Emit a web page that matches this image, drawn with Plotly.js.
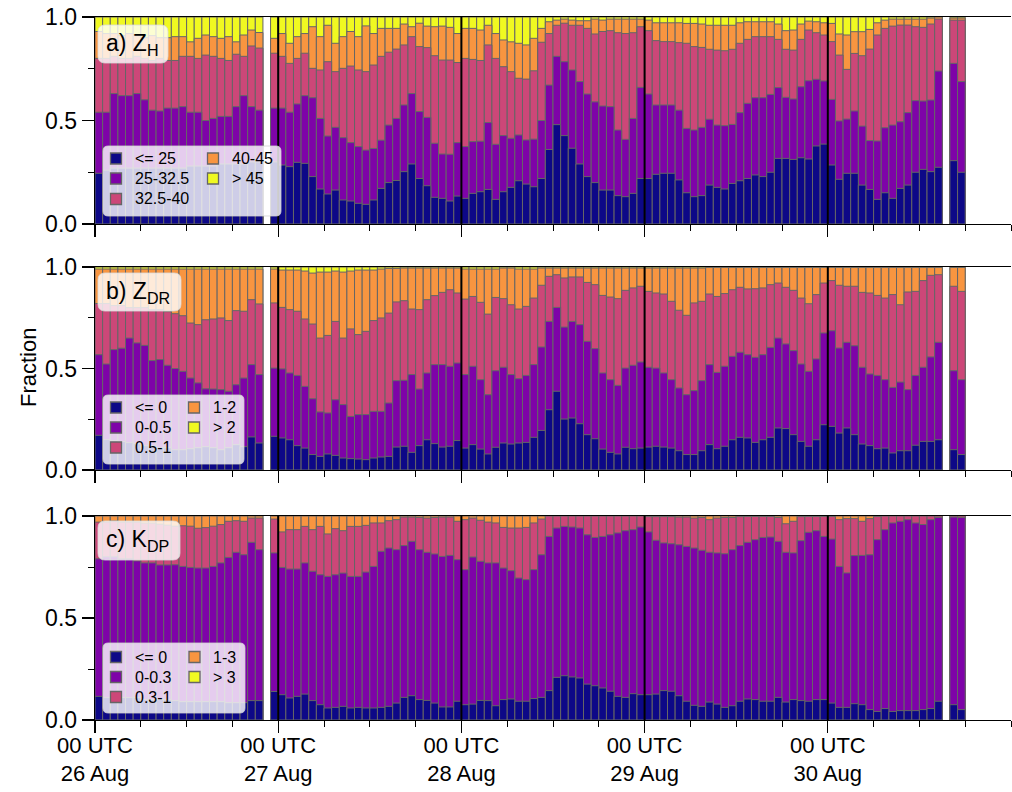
<!DOCTYPE html>
<html><head><meta charset="utf-8">
<script src="https://cdn.plot.ly/plotly-3.0.1.min.js"></script>
<style>html,body{margin:0;padding:0;background:#fff}#chart{width:1012px;height:792px}</style>
</head><body><div id="chart"></div>
<script>
// hourly bins (hours since 00 UTC 26 Aug); hours 22 and 111 have no data
const hours = [0,1,2,3,4,5,6,7,8,9,10,11,12,13,14,15,16,17,18,19,20,21,
 23,24,25,26,27,28,29,30,31,32,33,34,35,36,37,38,39,
 40,41,42,43,44,45,46,47,48,49,50,51,52,53,54,55,56,57,58,59,
 60,61,62,63,64,65,66,67,68,69,70,71,72,73,74,75,76,77,78,79,
 80,81,82,83,84,85,86,87,88,89,90,91,92,93,94,95,96,97,98,99,
 100,101,102,103,104,105,106,107,108,109,110,112,113];

const dayTickVals = [0,24,48,72,96];
const dayTickText = ['00 UTC<br>26 Aug','00 UTC<br>27 Aug','00 UTC<br>28 Aug','00 UTC<br>29 Aug','00 UTC<br>30 Aug'];
const fracTickVals = [0,0.5,1];
const fracTickText = ['0.0','0.5','1.0'];

const zhClasses  = ['&lt;= 25','25-32.5','32.5-40','40-45','&gt; 45'];
const zdrClasses = ['&lt;= 0','0-0.5','0.5-1','1-2','&gt; 2'];
const kdpClasses = ['&lt;= 0','0-0.3','0.3-1','1-3','&gt; 3'];
const classColors = ['#0d0887','#7e03a8','#cc4778','#f89540','#f0f921'];

// cumulative fractions (fraction of pixels at or below each class upper bound)
const fracTotal = [1,1,1,1,1,1,1,1,1,1,1,1,1,1,1,1,1,1,1,1,1,1,
 1,1,1,1,1,1,1,1,1,1,1,1,1,1,1,1,1,
 1,1,1,1,1,1,1,1,1,1,1,1,1,1,1,1,1,1,1,1,1,1,1,1,1,1,1,1,1,1,1,1,1,1,1,1,1,1,1,1,
 1,1,1,1,1,1,1,1,1,1,1,1,1,1,1,1,1,1,1,1,1,1,1,1,1,1,1,1,1,1,1,1,1];

// ---- Z_H ----
const zhLe25 = [.245,.26,.27,.27,.27,.27,.27,.27,.27,.27,.27,.27,.28,.28,.28,.28,.29,.29,.29,.29,.30,.30,
 .30,.285,.277,.298,.293,.229,.169,.145,.164,.116,.111,.10,.095,.116,.172,.20,.21,
 .253,.29,.22,.185,.129,.124,.111,.135,.124,.148,.156,.167,.119,.156,.177,.209,.193,.18,.22,.36,
 .48,.427,.366,.29,.229,.20,.164,.164,.137,.132,.148,.22,.22,.24,.245,.245,.213,.151,.132,.137,
 .188,.177,.169,.196,.209,.22,.237,.229,.25,.317,.317,.312,.32,.314,.377,.386,.285,.216,.245,.245,
 .188,.167,.119,.151,.124,.172,.188,.25,.264,.253,.274,.306,.25];
const zhLe325 = [.54,.54,.63,.62,.62,.63,.60,.55,.546,.56,.56,.567,.54,.54,.50,.51,.52,.52,.567,.62,.567,.55,
 .56,.56,.54,.58,.62,.61,.51,.425,.467,.417,.393,.374,.357,.365,.405,.478,.51,
 .575,.63,.543,.515,.39,.338,.337,.393,.374,.398,.40,.49,.385,.427,.414,.43,.406,.41,.50,.671,
 .81,.784,.744,.688,.628,.59,.57,.567,.454,.409,.51,.66,.628,.575,.575,.575,.55,.462,.454,.467,
 .506,.478,.475,.481,.538,.583,.61,.61,.626,.659,.612,.604,.663,.692,.699,.691,.602,.498,.507,.546,
 .473,.403,.401,.465,.478,.494,.538,.596,.594,.599,.739,.776,.688];
const zhLe40 = [.80,.80,.81,.80,.80,.81,.80,.79,.80,.79,.79,.81,.81,.80,.816,.81,.80,.79,.82,.81,.86,.85,
 .825,.81,.776,.80,.825,.752,.744,.784,.736,.752,.763,.744,.736,.768,.81,.83,.845,
 .865,.905,.857,.852,.813,.792,.792,.78,.80,.795,.79,.865,.80,.76,.736,.704,.70,.74,.878,.92,
 .96,.97,.96,.96,.945,.918,.93,.934,.924,.92,.924,.953,.934,.886,.881,.881,.876,.873,.857,.853,
 .844,.84,.837,.844,.873,.892,.905,.905,.905,.892,.844,.84,.892,.937,.924,.913,.881,.816,.747,.824,
 .813,.845,.913,.945,.956,.961,.961,.953,.95,.966,.99,.985,.985];
const zhLe45 = [.93,.92,.92,.91,.92,.91,.90,.91,.90,.90,.905,.905,.88,.897,.913,.905,.897,.905,.88,.913,.937,.925,
 .897,.92,.873,.905,.92,.953,.905,.96,.873,.905,.93,.905,.957,.92,.945,.945,.945,
 .966,.953,.97,.956,.953,.956,.95,.92,.945,.945,.937,.96,.92,.889,.88,.873,.865,.897,.945,.977,
 .985,.99,.985,.982,.982,.99,.985,.99,.99,.99,.99,.99,.985,.972,.972,.972,.972,.969,.969,.966,
 .96,.96,.96,.96,.972,.977,.977,.977,.977,.966,.934,.937,.966,.98,.977,.972,.969,.918,.913,.929,
 .929,.94,.972,.985,.99,.99,.99,.99,.99,.995,1.0,.995,.995];

// ---- Z_DR ----
const zdrLe0 = [.171,.15,.145,.14,.135,.13,.12,.12,.11,.11,.10,.10,.105,.11,.115,.11,.10,.11,.125,.115,.163,.133,
 .166,.158,.149,.12,.108,.076,.067,.079,.072,.059,.056,.054,.051,.059,.064,.067,.113,
 .117,.087,.12,.149,.13,.113,.117,.145,.108,.125,.103,.079,.112,.133,.128,.133,.136,.161,.195,.297,
 .388,.251,.256,.228,.174,.154,.103,.087,.079,.112,.105,.108,.113,.117,.113,.108,.095,.076,.076,.095,
 .125,.105,.117,.149,.161,.158,.136,.149,.161,.207,.204,.174,.141,.117,.149,.223,.215,.182,.207,.174,
 .128,.12,.105,.108,.084,.095,.095,.122,.141,.141,.149,.10,.076];
const zdrLe05 = [.568,.522,.593,.60,.65,.626,.614,.539,.544,.516,.50,.486,.453,.429,.40,.399,.396,.388,.42,.453,.519,.47,
 .502,.498,.478,.466,.412,.351,.286,.281,.346,.322,.264,.273,.273,.289,.289,.33,.44,
 .442,.47,.399,.478,.519,.519,.511,.527,.47,.511,.445,.371,.489,.506,.47,.45,.466,.519,.606,.732,
 .801,.704,.732,.716,.634,.598,.478,.445,.417,.502,.516,.532,.506,.502,.478,.445,.404,.371,.391,.44,
 .519,.481,.511,.56,.58,.568,.555,.568,.604,.65,.621,.588,.522,.486,.547,.675,.686,.601,.629,.612,
 .506,.473,.466,.445,.407,.433,.396,.466,.506,.557,.629,.489,.445];
const zdrLe1 = [.82,.82,.81,.81,.80,.80,.80,.79,.79,.78,.77,.76,.724,.716,.74,.744,.749,.736,.785,.782,.839,.818,
 .823,.801,.79,.782,.744,.719,.65,.663,.732,.65,.695,.667,.683,.736,.749,.773,.828,
 .834,.793,.79,.839,.859,.875,.888,.872,.842,.855,.826,.768,.85,.844,.814,.793,.806,.847,.91,.954,
 .962,.946,.951,.951,.924,.913,.86,.852,.844,.885,.897,.905,.88,.872,.867,.831,.787,.762,.823,.831,
 .867,.855,.869,.888,.90,.892,.893,.897,.913,.921,.90,.885,.847,.819,.864,.921,.933,.91,.905,.905,
 .875,.872,.86,.847,.864,.814,.877,.88,.933,.959,.962,.905,.88];
const zdrLe2 = [.99,.99,.99,.99,.99,.99,.99,.99,.99,.99,.99,.99,.99,.99,.99,.99,.99,.99,.99,.99,.99,.99,
 .99,.985,.985,.985,.98,.97,.975,.975,.98,.975,.98,.985,.985,.985,.99,.993,.993,
 .995,.995,.995,.995,.995,.995,.995,.995,.99,.99,.99,.99,.99,.995,.995,.99,.99,.99,.995,.995,
 .995,.995,.995,.995,.995,.995,.995,.995,.995,.995,.995,.995,.995,.995,.995,.995,.995,.995,.995,.995,
 .998,.998,.998,.998,.998,.998,.998,.998,.998,.998,.998,.998,.998,.998,.998,.998,.998,.998,.998,.998,
 .998,.998,.998,.998,.998,.998,.998,.998,.998,.998,.998,.998,.998];

// ---- K_DP ----
const kdpLe0 = [.116,.11,.11,.11,.11,.11,.10,.10,.10,.10,.095,.09,.09,.09,.09,.09,.09,.085,.085,.085,.095,.095,
 .14,.124,.108,.116,.127,.095,.075,.059,.062,.067,.059,.062,.059,.059,.062,.067,.083,
 .111,.119,.10,.096,.083,.064,.064,.092,.075,.078,.096,.095,.07,.10,.103,.092,.092,.105,.111,.144,
 .209,.217,.211,.206,.176,.168,.157,.141,.116,.111,.129,.124,.124,.127,.144,.141,.119,.092,.072,.067,
 .088,.078,.062,.07,.092,.103,.10,.092,.092,.111,.088,.10,.095,.092,.10,.10,.083,.062,.062,.08,
 .075,.051,.042,.056,.042,.046,.046,.046,.051,.056,.092,.075,.051];
const kdpLe03 = [.79,.80,.80,.79,.79,.78,.77,.77,.76,.76,.761,.753,.748,.745,.745,.753,.77,.797,.822,.81,.871,.835,
 .819,.748,.74,.74,.77,.729,.712,.704,.712,.72,.704,.704,.725,.753,.827,.843,.835,
 .855,.876,.835,.822,.814,.802,.807,.786,.737,.799,.778,.77,.77,.745,.732,.696,.688,.737,.81,.90,
 .941,.949,.946,.941,.908,.895,.90,.908,.917,.928,.933,.946,.922,.881,.868,.864,.859,.851,.843,.832,
 .822,.819,.815,.835,.855,.871,.884,.895,.897,.876,.822,.819,.879,.92,.928,.90,.887,.753,.721,.806,
 .807,.81,.884,.933,.966,.974,.982,.966,.958,.982,.993,.995,.993];
const kdpLe1 = [.97,.97,.975,.97,.97,.97,.965,.965,.96,.955,.95,.952,.95,.94,.943,.95,.958,.974,.977,.974,.99,.99,
 .985,.922,.933,.933,.949,.933,.949,.912,.938,.928,.949,.949,.954,.966,.966,.977,.982,
 .995,.995,.993,.99,.993,.995,.995,.974,.982,.99,.979,.97,.966,.944,.941,.941,.944,.966,.985,1,
 1,1,1,1,1,1,1,1,1,1,1,1,.997,.997,.997,.997,.995,.995,.99,.993,
 .982,.99,.993,.993,.997,.998,.998,.998,.998,.993,.962,.974,.997,.998,.998,.998,.998,.982,.987,.987,
 .974,.987,.998,1,1,1,1,1,1,1,1,1,1];
const kdpLe3 = [1,1,1,1,1,1,1,1,1,1,1,1,1,1,1,1,1,1,1,1,1,1,
 1,1,1,1,1,1,1,1,1,1,1,1,1,1,1,1,1,
 1,1,1,1,1,1,1,1,1,1,1,1,1,1,1,1,1,1,1,1,1,1,1,1,1,1,1,1,1,1,1,1,1,1,1,1,1,1,1,1,
 1,1,1,1,1,1,1,1,1,1,1,1,1,1,1,1,1,1,1,1,1,1,1,1,1,1,1,1,1,1,1,1,1];

// ---------------- layout helpers ----------------
const W = 1012, H = 792;
const M = {l:95, r:1, t:17, b:72};
const PW = W - M.l - M.r, PH = H - M.t - M.b;
const px2x = X => (X - M.l) / PW;
const px2y = Y => (H - M.b - Y) / PH;
function roundRect(x0, y0, x1, y1, r) {
  const P = (X, Y) => px2x(X).toFixed(5) + ',' + px2y(Y).toFixed(5);
  return 'M' + P(x0 + r, y0) + ' L' + P(x1 - r, y0) + ' Q' + P(x1, y0) + ' ' + P(x1, y0 + r) +
         ' L' + P(x1, y1 - r) + ' Q' + P(x1, y1) + ' ' + P(x1 - r, y1) +
         ' L' + P(x0 + r, y1) + ' Q' + P(x0, y1) + ' ' + P(x0, y1 - r) +
         ' L' + P(x0, y0 + r) + ' Q' + P(x0, y0) + ' ' + P(x0 + r, y0) + ' Z';
}

const panels = [
  {cum:[zhLe25, zhLe325, zhLe40, zhLe45, fracTotal], names: zhClasses, label:'a) Z<sub>H</sub>',
   domain:[px2y(224), px2y(17)], labelBox:[98,25,168,63], legBox:[103,146,281,216],
   rows:[158.5,178.5,199], col1:[116,135], col2:[213,232]},
  {cum:[zdrLe0, zdrLe05, zdrLe1, zdrLe2, fracTotal], names: zdrClasses, label:'b) Z<sub>DR</sub>',
   domain:[px2y(470), px2y(267)], labelBox:[98,273,181,311], legBox:[103,395,244,464],
   rows:[407.5,427.5,447.5], col1:[116,135], col2:[194,213]},
  {cum:[kdpLe0, kdpLe03, kdpLe1, kdpLe3, fracTotal], names: kdpClasses, label:'c) K<sub>DP</sub>',
   domain:[px2y(720), px2y(516)], labelBox:[98,521,180,560], legBox:[103,643,245,713],
   rows:[657,677,697], col1:[116,135], col2:[194.5,213]}
];

const traces = [];
const layout = {
  width: W, height: H, margin: M, barmode: 'overlay', bargap: 0,
  paper_bgcolor: 'white', plot_bgcolor: 'white',
  font: {family: 'Liberation Sans, Arial, Helvetica, sans-serif', color: 'black', size: 22},
  shapes: [], annotations: [], showlegend: false
};

panels.forEach((p, i) => {
  const s = i === 0 ? '' : String(i + 1);
  for (let k = 4; k >= 0; k--) {
    traces.push({
      type: 'bar', x: hours, y: p.cum[k], width: 1, offset: 0,
      xaxis: 'x' + s, yaxis: 'y' + s, name: p.names[k],
      marker: {color: classColors[k], line: {color: '#666666', width: 1}},
      hoverinfo: 'x+y+name'
    });
  }

  layout['xaxis' + s] = {
    anchor: 'y' + s, domain: [0, 1], range: [0, 120], fixedrange: true,
    showline: true, linecolor: 'black', linewidth: 1.3, mirror: true,
    showgrid: false, zeroline: false,
    tickmode: 'array', tickvals: dayTickVals, ticktext: dayTickText,
    showticklabels: i === 2, ticks: 'outside', ticklen: 12, tickwidth: 1.3, tickcolor: 'black',
    ticklabelstandoff: -7,
    tickfont: {size: 22, color: 'black'},
    minor: {tickmode: 'linear', tick0: 0, dtick: 6, ticks: 'outside', ticklen: 6, tickwidth: 1, tickcolor: 'black', showgrid: false}
  };
  layout['yaxis' + s] = {
    anchor: 'x' + s, domain: p.domain, range: [0, 1], fixedrange: true,
    showline: true, linecolor: 'black', linewidth: 1.3, mirror: false,
    showgrid: false, zeroline: false,
    tickmode: 'array', tickvals: fracTickVals, ticktext: fracTickText,
    ticks: 'outside', ticklen: 12, tickwidth: 1.3, tickcolor: 'black',
    tickfont: {size: 23, color: 'black'},
    minor: {tickmode: 'linear', tick0: 0, dtick: 0.25, ticks: 'outside', ticklen: 6, tickwidth: 1, tickcolor: 'black', showgrid: false}
  };

  dayTickVals.slice(1).forEach(d => {
    layout.shapes.push({type: 'line', xref: 'x' + s, yref: 'y' + s + ' domain', x0: d, x1: d, y0: 0, y1: 1,
      line: {color: 'black', width: 2}, layer: 'above'});
  });
  const lb = p.labelBox, gb = p.legBox;
  layout.shapes.push({type: 'path', xref: 'paper', yref: 'paper', path: roundRect(lb[0], lb[1], lb[2], lb[3], 7),
    fillcolor: 'rgba(255,255,255,0.8)', line: {color: 'rgba(220,220,220,0.8)', width: 1}, layer: 'above'});
  layout.shapes.push({type: 'path', xref: 'paper', yref: 'paper', path: roundRect(gb[0], gb[1], gb[2], gb[3], 5),
    fillcolor: 'rgba(255,255,255,0.8)', line: {color: 'rgba(210,210,210,0.8)', width: 1}, layer: 'above'});
  layout.annotations.push({xref: 'paper', yref: 'paper', x: px2x(lb[0] + 8), y: px2y((lb[1] + lb[3]) / 2),
    xanchor: 'left', yanchor: 'middle', showarrow: false, text: p.label, font: {size: 23, color: 'black'},
    borderpad: 0, borderwidth: 0});

  // legend: column 1 holds classes 0-2, column 2 holds classes 3-4
  for (let k = 0; k < 5; k++) {
    const col = k < 3 ? p.col1 : p.col2;
    const rowY = p.rows[k < 3 ? k : k - 3];
    layout.shapes.push({type: 'rect', xref: 'paper', yref: 'paper',
      x0: px2x(col[0] - 5.5), x1: px2x(col[0] + 5.5), y0: px2y(rowY + 5.5), y1: px2y(rowY - 5.5),
      fillcolor: classColors[k], line: {color: '#666666', width: 1.3}, layer: 'above'});
    layout.annotations.push({xref: 'paper', yref: 'paper', x: px2x(col[1]), y: px2y(rowY),
      xanchor: 'left', yanchor: 'middle', showarrow: false, text: p.names[k],
      font: {size: 16, color: 'black'}, borderpad: 0, borderwidth: 0});
  }
});

layout.annotations.push({xref: 'paper', yref: 'paper', x: px2x(28), y: px2y(368), xanchor: 'center', yanchor: 'middle',
  showarrow: false, textangle: -90, text: 'Fraction', font: {size: 22, color: 'black'}});

Plotly.newPlot('chart', traces, layout, {displayModeBar: false, staticPlot: true});
</script>
</body></html>
